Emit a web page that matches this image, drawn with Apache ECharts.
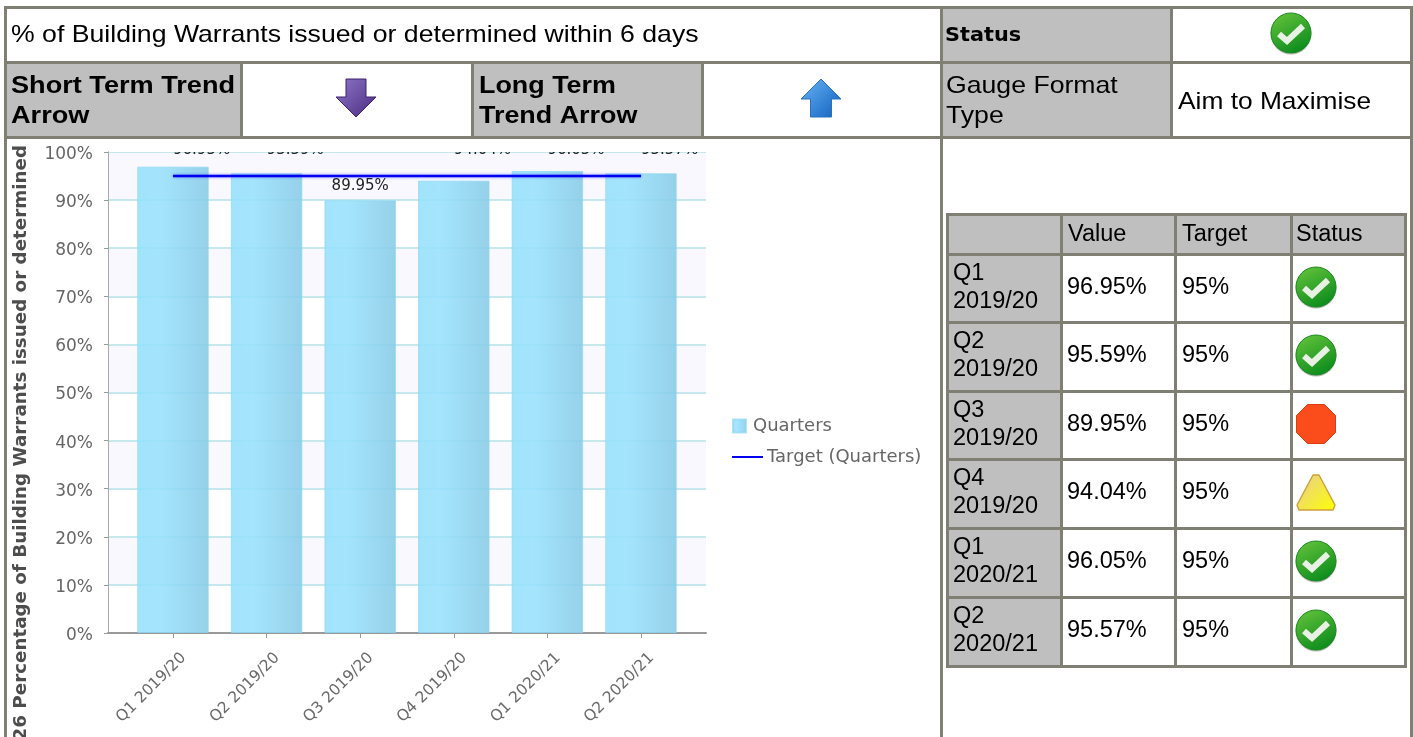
<!DOCTYPE html>
<html><head><meta charset="utf-8">
<style>html,body{margin:0;padding:0;background:#fff;overflow:hidden}#c{width:1413px;height:737px}</style>
<script src="https://cdn.jsdelivr.net/npm/echarts@6/dist/echarts.min.js"></script></head>
<body><div id="c"></div>
<script>
const categories = ['Q1 2019/20','Q2 2019/20','Q3 2019/20','Q4 2019/20','Q1 2020/21','Q2 2020/21'];
const values = [96.95,95.59,89.95,94.04,96.05,95.57];
const targets = [95,95,95,95,95,95];
const statuses = ['ok','ok','stop','warn','ok','ok'];
const yTicks = [0,10,20,30,40,50,60,70,80,90,100];
const chartTitle = '% of Building Warrants issued or determined within 6 days';
const yTitle = '26 Percentage of Building Warrants issued or determined';

const chart = echarts.init(document.getElementById('c'), null, {renderer:'canvas'});
const BORDER = '#7f7f73', HEAD = '#bfbfbf';
const G = [];
const rect = (x,y,w,h,fill,z) => G.push({type:'rect',z:z||50,silent:true,shape:{x,y,width:w,height:h},style:{fill}});
const text = (t,x,y,font,sx) => G.push({type:'text',z:60,silent:true,x,y,scaleX:sx||1,style:{text:t,x:0,y:0,font,fill:'#000',verticalAlign:'middle',align:'left'}});
const lg = (x1,y1,x2,y2,a,b) => new echarts.graphic.LinearGradient(x1,y1,x2,y2,[{offset:0,color:a},{offset:1,color:b}]);

function checkIcon(cx,cy){
  G.push({type:'circle',z:60,silent:true,shape:{cx:cx,cy:cy+1,r:20.5},style:{fill:'rgba(60,60,60,.35)'}});
  G.push({type:'circle',z:61,silent:true,shape:{cx,cy,r:20},style:{fill:lg(0.2,0,0.7,1,'#62c23a','#0a8a1c'),stroke:'#1a8a20',lineWidth:1}});
  G.push({type:'polyline',z:62,silent:true,shape:{points:[[cx-12,cy+1],[cx-4,cy+8],[cx+12,cy-7]]},style:{fill:'none',stroke:'#e8f2e4',lineWidth:6}});
}
function stopIcon(cx,cy){
  const a=19.5,b=8.5;
  G.push({type:'polygon',z:61,silent:true,shape:{points:[[cx-b,cy-a],[cx+b,cy-a],[cx+a,cy-b],[cx+a,cy+b],[cx+b,cy+a],[cx-b,cy+a],[cx-a,cy+b],[cx-a,cy-b]]},style:{fill:'#fb4d1c',stroke:'#d83c14',lineWidth:1}});
}
function warnIcon(cx,cy){
  G.push({type:'polygon',z:61,silent:true,shape:{points:[[cx-3,cy-17],[cx+3,cy-17],[cx+19,cy+13],[cx+17,cy+18],[cx-17,cy+18],[cx-19,cy+13]]},style:{fill:lg(0,0,1,1,'#e6cc98','#ffff00'),stroke:'#cf9f38',lineWidth:1.4,lineJoin:'round'}});
}
function arrow(cx,top,bot,headY,hw,sw,up,a,b,s){
  const pts = up
    ? [[cx,top],[cx+hw,headY],[cx+sw,headY],[cx+sw,bot],[cx-sw,bot],[cx-sw,headY],[cx-hw,headY]]
    : [[cx-sw,top],[cx+sw,top],[cx+sw,headY],[cx+hw,headY],[cx,bot],[cx-hw,headY],[cx-sw,headY]];
  G.push({type:'polygon',z:61,silent:true,shape:{points:pts},style:{fill:lg(0,0,1,1,a,b),stroke:s,lineWidth:1}});
}

// clip strip above the plot: data labels are cut off at the plot top
rect(109,139,600,13,'#fff',55);

// outer table fills
rect(943,9,227,52,HEAD); rect(7,64,233,72,HEAD); rect(474,64,227,72,HEAD); rect(943,64,227,72,HEAD);
// inner table fills
rect(947,214,457,40,HEAD);
[254,322,391,459,528,597].forEach((y,i,a)=>rect(947,y,113,(i<5?a[i+1]:666)-y,HEAD));
// outer lines
[[6],[61],[136]].forEach(([y])=>rect(4,y,1409,3,BORDER));
rect(4,6,3,731,BORDER); rect(940,6,3,731,BORDER); rect(1410,6,3,731,BORDER);
rect(1170,6,3,133,BORDER); rect(240,61,3,78,BORDER); rect(471,61,3,78,BORDER); rect(701,61,3,78,BORDER);
// inner lines
[213,253,321,390,458,527,596,665].forEach(y=>rect(946,y,460,3,BORDER));
[946,1060,1174,1290,1404].forEach(x=>rect(x,213,3,455,BORDER));

const A='24px "Liberation Sans"', AB='bold 24px "Liberation Sans"', T='23.5px "Liberation Sans"', SX=1.11;
text(chartTitle,11,35.5,A,SX);
text('Status',945,36,'bold 20px "DejaVu Sans"',1.04);
text('Short Term Trend',11,86,AB,SX+.02); text('Arrow',11,116,AB,SX+.02);
text('Long Term',479,86,AB,SX+.01); text('Trend Arrow',479,116,AB,SX+.01);
text('Gauge Format',946,86,A,SX); text('Type',946,116,A,SX);
text('Aim to Maximise',1178,102,A,1.097);
checkIcon(1291,33);
arrow(356,79,117,97,20,10,false,'#8e78c8','#4a2a80','#3e2070');
arrow(821,79,117,99,20,10.5,true,'#69b4f4','#1060c0','#2a70c0');

text('Value',1068,235,T); text('Target',1182,235,T); text('Status',1296,235,T);
const rowY = [288,356,425,493,562,631];
categories.forEach((c,i)=>{
  const [q,yr]=c.split(' ');
  text(q,953,rowY[i]-14,T); text(yr,953,rowY[i]+14,T);
  text(values[i].toFixed(2)+'%',1067,rowY[i],T);
  text(targets[i]+'%',1182,rowY[i],T);
  const cy=rowY[i]-1;
  if(statuses[i]==='ok') checkIcon(1316,cy);
  else if(statuses[i]==='stop') stopIcon(1316,cy);
  else warnIcon(1316,cy);
});
G.push({type:'text',z:60,silent:true,rotation:Math.PI/2,x:21,y:145,style:{text:yTitle,x:0,y:0,font:'bold 18.3px "DejaVu Sans"',fill:'#4d4d4d',align:'right',verticalAlign:'middle'}});

const GREY='#666';
const TOP=152,H=481;
chart.setOption({
  animation:false,
  backgroundColor:'#fff',
  grid:[
    {left:108,top:TOP,width:598,height:H},
    {left:126.2,top:TOP,width:561.6,height:H}
  ],
  xAxis:[
    {gridIndex:0,type:'category',data:[''],axisLine:{lineStyle:{color:'#999',width:2}},axisTick:{show:false},axisLabel:{show:false}},
    {gridIndex:1,type:'category',data:categories,axisLine:{show:false},
     axisTick:{show:true,alignWithLabel:true,length:5,lineStyle:{color:'#999'}},
     axisLabel:{rotate:45,margin:33,interval:0,color:'#6a6a6a',fontFamily:'DejaVu Sans',fontSize:15.5,padding:[0,-15,0,0]}}
  ],
  yAxis:[
    {gridIndex:0,type:'value',min:yTicks[0],max:yTicks[yTicks.length-1],interval:10,
     axisLine:{show:true,lineStyle:{color:'#aaa',width:1}},
     axisTick:{show:true,length:4,lineStyle:{color:'#999'}},
     axisLabel:{formatter:'{value}%',color:GREY,fontFamily:'DejaVu Sans',fontSize:17,margin:15,verticalAlign:'top',padding:[-6,0,0,0]},
     splitLine:{show:true,lineStyle:{color:'#b4e2e8',width:1.5}},
     splitArea:{show:true,areaStyle:{color:['#ffffff','#f8f8fe']}}},
    {gridIndex:1,type:'value',min:0,max:100,interval:10,show:false}
  ],
  legend:[
    {left:727,top:412,orient:'vertical',data:['Quarters'],icon:'rect',itemWidth:13,itemHeight:13,itemGap:0,
     textStyle:{color:GREY,fontFamily:'DejaVu Sans',fontSize:18,padding:[0,0,0,2]}},
    {left:727,top:443,orient:'vertical',data:['Target (Quarters)'],icon:'rect',itemWidth:31,itemHeight:2,itemGap:0,
     textStyle:{color:GREY,fontFamily:'DejaVu Sans',fontSize:18,padding:[0,0,0,-1]}}
  ],
  series:[
    {name:'Quarters',type:'bar',xAxisIndex:1,yAxisIndex:1,data:values,barWidth:71.5,z:2,
     itemStyle:{color:{type:'linear',x:0,y:0,x2:1,y2:0,colorStops:[
        {offset:0,color:'rgba(150,224,252,.88)'},{offset:.3,color:'rgba(152,226,253,.88)'},{offset:1,color:'rgba(135,203,230,.88)'}]},
        borderColor:'rgba(140,215,245,.7)',borderWidth:1},
     label:{show:true,position:'top',distance:7,formatter:p=>p.value.toFixed(2)+'%',color:'#222',fontFamily:'DejaVu Sans',fontSize:15},
     labelLayout:p=>p.dataIndex===2?{}:{y:143}},
    {name:'Target (Quarters)',type:'line',xAxisIndex:1,yAxisIndex:1,data:targets,symbol:'none',z:5,
     lineStyle:{color:'#0000f0',width:2.5,shadowColor:'rgba(0,0,255,.45)',shadowBlur:3},itemStyle:{color:'#0000f0'}}
  ],
  graphic:{elements:G}
});
</script></body></html>
